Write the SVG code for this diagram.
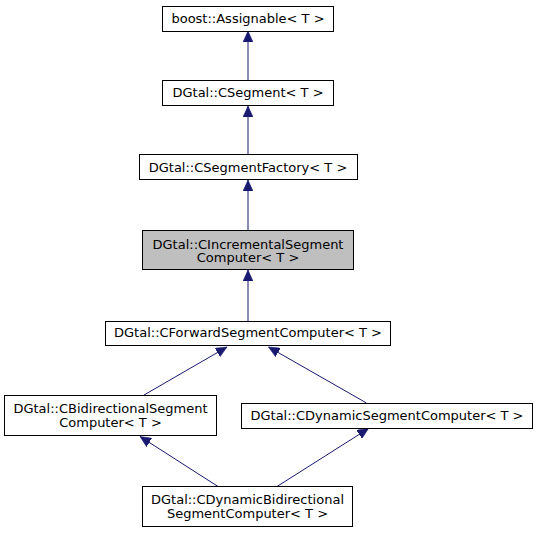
<svg xmlns="http://www.w3.org/2000/svg" width="537" height="533" viewBox="0 0 537 533">
<style>
.node rect{fill:#ffffff;stroke:#000000;stroke-width:1}
.node.cur rect{fill:#bfbfbf}
.node text{font-family:"DejaVu Sans",sans-serif;font-size:13px;fill:#000000;text-anchor:middle}
.edge{stroke:#191970;stroke-width:1;fill:none;marker-end:url(#arr)}
</style>
<defs>
<marker id="arr" markerUnits="userSpaceOnUse" viewBox="0 0 11 10" refX="11" refY="5" markerWidth="11" markerHeight="10" orient="auto">
<path d="M0,0 L11,5 L0,10 z" fill="#191970" stroke="#191970" stroke-width="0.5"/>
</marker>
</defs>
<rect width="537" height="533" fill="#ffffff"/>
<g id="connectors">
<line class="edge" x1="248" y1="80" x2="248" y2="31"/>
<line class="edge" x1="248" y1="154" x2="248" y2="106"/>
<line class="edge" x1="248" y1="231" x2="248" y2="180"/>
<line class="edge" x1="248" y1="321" x2="248" y2="270"/>
<line class="edge" x1="144" y1="395" x2="227" y2="347"/>
<line class="edge" x1="366.5" y1="403" x2="268.5" y2="347"/>
<line class="edge" x1="218" y1="486.5" x2="140" y2="436.5"/>
<line class="edge" x1="277" y1="486.5" x2="368.5" y2="428.5"/>
</g>
<g id="n_assignable" class="node">
<rect x="162.5" y="6.5" width="171" height="25"/>
<text x="248" y="22.5">boost::Assignable&lt; T &gt;</text>
</g>
<g id="n_csegment" class="node">
<rect x="162.5" y="80.5" width="171" height="25"/>
<text x="248" y="97">DGtal::CSegment&lt; T &gt;</text>
</g>
<g id="n_factory" class="node">
<rect x="139.5" y="154.5" width="218" height="25"/>
<text x="248" y="171.5">DGtal::CSegmentFactory&lt; T &gt;</text>
</g>
<g id="n_incremental" class="node cur">
<rect x="142.5" y="230.5" width="211" height="39"/>
<text x="248" y="248.5">DGtal::CIncrementalSegment</text>
<text x="248" y="262">Computer&lt; T &gt;</text>
</g>
<g id="n_forward" class="node">
<rect x="105.5" y="321.5" width="285" height="24"/>
<text x="248" y="337">DGtal::CForwardSegmentComputer&lt; T &gt;</text>
</g>
<g id="n_bidir" class="node">
<rect x="4.5" y="395.5" width="212" height="40"/>
<text x="110.5" y="412.5">DGtal::CBidirectionalSegment</text>
<text x="110.5" y="426.5">Computer&lt; T &gt;</text>
</g>
<g id="n_dynseg" class="node">
<rect x="241.5" y="403.5" width="291" height="25"/>
<text x="387" y="420">DGtal::CDynamicSegmentComputer&lt; T &gt;</text>
</g>
<g id="n_dynbidir" class="node">
<rect x="142.5" y="486.5" width="210" height="40"/>
<text x="247.5" y="503.5">DGtal::CDynamicBidirectional</text>
<text x="247.5" y="517.5">SegmentComputer&lt; T &gt;</text>
</g>
</svg>
